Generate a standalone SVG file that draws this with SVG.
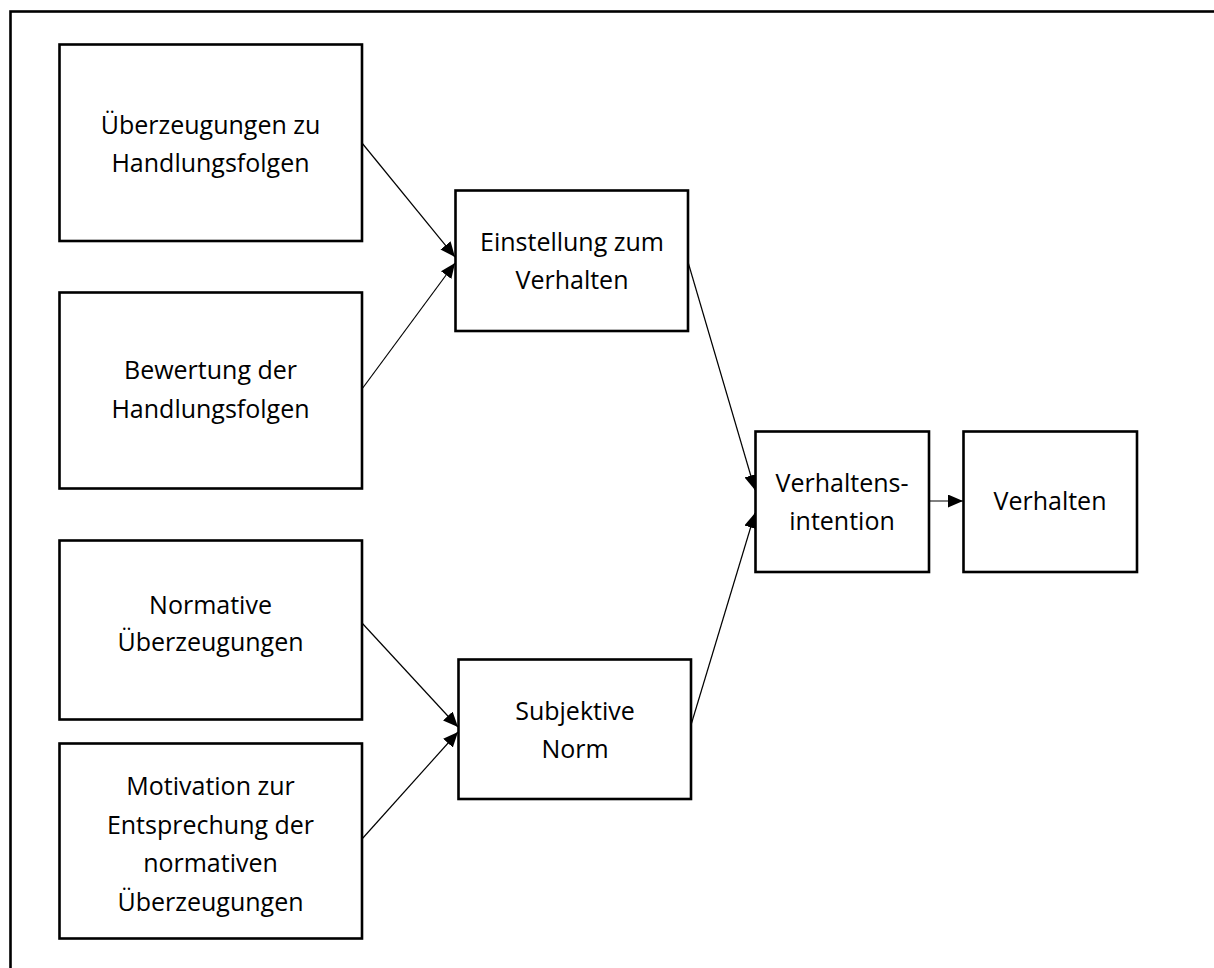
<svg xmlns="http://www.w3.org/2000/svg" width="1214" height="968" viewBox="0 0 1214 968">
  <style>
    .frame { fill: none; stroke: #000; stroke-width: 2.6; }
    .box { fill: #fff; stroke: #000; stroke-width: 2.6; }
    .lbl { font-family: "Open Sans", "Liberation Sans", sans-serif; font-size: 25px; fill: #000; text-anchor: middle; }
    .edge { fill: none; stroke: #000; stroke-width: 1.2; marker-end: url(#head); }
  </style>
  <defs>
    <marker id="head" markerUnits="userSpaceOnUse" markerWidth="15" markerHeight="13" refX="15" refY="6.5" orient="auto">
      <path d="M0,0 L15,6.5 L0,13 Z" fill="#000"/>
    </marker>
  </defs>

  <rect width="1214" height="968" fill="#fff"/>
  <!-- outer frame: open to the right and bottom of the page -->
  <rect class="frame" x="10.5" y="11.5" width="1240" height="1000"/>

  <g id="connectors">
    <line class="edge" x1="362" y1="143" x2="455" y2="257"/>
    <line class="edge" x1="362" y1="389" x2="455" y2="263"/>
    <line class="edge" x1="688" y1="262" x2="755" y2="490"/>
    <line class="edge" x1="691" y1="725" x2="755" y2="513"/>
    <line class="edge" x1="362" y1="623" x2="458" y2="727"/>
    <line class="edge" x1="362" y1="839" x2="458" y2="732"/>
    <line class="edge" x1="929" y1="501" x2="963" y2="501"/>
  </g>

  <g id="ueberzeugungen-handlungsfolgen">
    <rect class="box" x="59.5" y="44.5" width="302.5" height="196.5"/>
    <text class="lbl" x="210.5" y="134">Überzeugungen zu</text>
    <text class="lbl" x="210.5" y="172">Handlungsfolgen</text>
  </g>

  <g id="bewertung-handlungsfolgen">
    <rect class="box" x="59.5" y="292.5" width="302.5" height="196"/>
    <text class="lbl" x="210.5" y="379">Bewertung der</text>
    <text class="lbl" x="210.5" y="418">Handlungsfolgen</text>
  </g>

  <g id="normative-ueberzeugungen">
    <rect class="box" x="59.5" y="540.5" width="302.5" height="179"/>
    <text class="lbl" x="210.5" y="614">Normative</text>
    <text class="lbl" x="210.5" y="651">Überzeugungen</text>
  </g>

  <g id="motivation">
    <rect class="box" x="59.5" y="743.5" width="302.5" height="195"/>
    <text class="lbl" x="210.5" y="795">Motivation zur</text>
    <text class="lbl" x="210.5" y="834">Entsprechung der</text>
    <text class="lbl" x="210.5" y="872">normativen</text>
    <text class="lbl" x="210.5" y="911">Überzeugungen</text>
  </g>

  <g id="einstellung">
    <rect class="box" x="455.5" y="190.5" width="232.5" height="140.5"/>
    <text class="lbl" x="572" y="251">Einstellung zum</text>
    <text class="lbl" x="572" y="289">Verhalten</text>
  </g>

  <g id="subjektive-norm">
    <rect class="box" x="458.5" y="659.5" width="232.5" height="139.5"/>
    <text class="lbl" x="575" y="720">Subjektive</text>
    <text class="lbl" x="575" y="758">Norm</text>
  </g>

  <g id="verhaltensintention">
    <rect class="box" x="755.5" y="431.5" width="173.5" height="140.5"/>
    <text class="lbl" x="842" y="492">Verhaltens-</text>
    <text class="lbl" x="842" y="530">intention</text>
  </g>

  <g id="verhalten">
    <rect class="box" x="963.5" y="431.5" width="173.5" height="140.5"/>
    <text class="lbl" x="1050" y="510">Verhalten</text>
  </g>
</svg>
